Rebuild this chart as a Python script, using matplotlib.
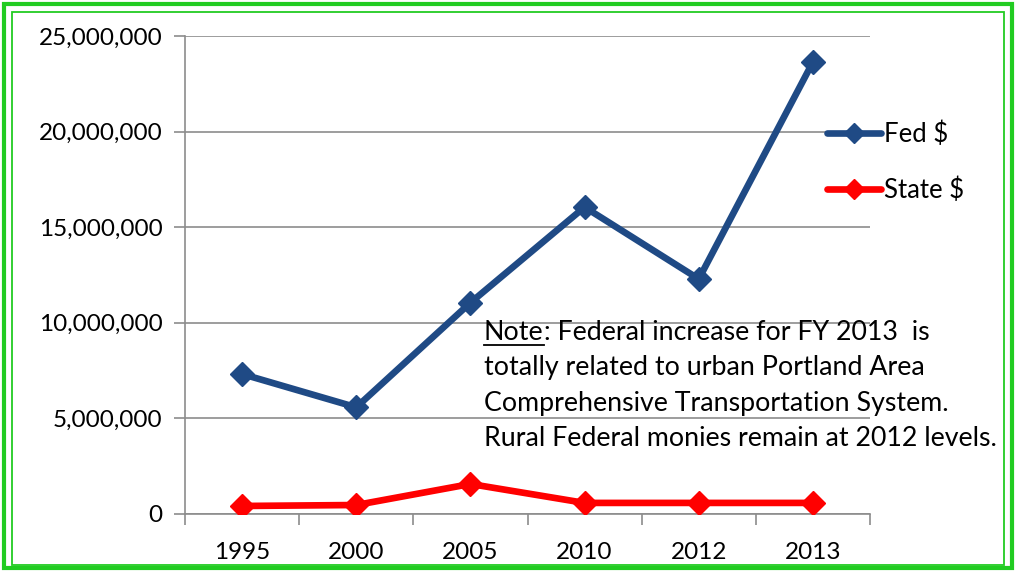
import matplotlib
matplotlib.use("Agg")
import matplotlib.pyplot as plt
from matplotlib.patches import Rectangle
from matplotlib.lines import Line2D
from matplotlib.ticker import FuncFormatter, MultipleLocator

years = ["1995", "2000", "2005", "2010", "2012", "2013"]
fed = [7320000, 5580000, 11050000, 16050000, 12290000, 23640000]
state = [420000, 470000, 1570000, 580000, 580000, 580000]
series_names = ["Fed $", "State $"]
note_lines = [
    ": Federal increase for FY 2013  is",
    "totally related to urban Portland Area",
    "Comprehensive Transportation System.",
    "Rural Federal monies remain at 2012 levels.",
]

plt.rcParams['font.family'] = ['Lato', 'DejaVu Sans']

W, H = 1016, 571
fig = plt.figure(figsize=(W / 100, H / 100), dpi=100)
ax = fig.add_axes([185 / W, 1 - 514 / H, (870 - 185) / W, (514 - 36) / H])

x = list(range(len(years)))
fed_c = "#1F4A85"
state_c = "#FF0000"
ax.plot(x, fed, color=fed_c, lw=4.8, marker="D", ms=12, solid_capstyle="round", zorder=3)
ax.plot(x, state, color=state_c, lw=4.8, marker="D", ms=12, solid_capstyle="round", zorder=3)

ax.set_xlim(-0.5, len(years) - 0.5)
ax.set_ylim(0, 25000000)
ax.yaxis.set_major_locator(MultipleLocator(5000000))
ax.yaxis.set_major_formatter(FuncFormatter(lambda v, p: f"{int(v):,}"))
ax.set_xticks(x)
ax.set_xticklabels(years)
ax.set_xticks([i - 0.5 for i in range(len(years) + 1)], minor=True)
ax.tick_params(axis="x", which="major", length=0, pad=20, labelsize=17.5)
ax.tick_params(axis="x", which="minor", length=8, width=1.2, color="#8C8C8C", direction="out")
ax.tick_params(axis="y", length=8, width=1.2, color="#8C8C8C", labelsize=17.5, pad=8)
ax.grid(axis="y", color="#8C8C8C", lw=1.2, zorder=0)
for s in ["top", "right"]:
    ax.spines[s].set_visible(False)
for s in ["left", "bottom"]:
    ax.spines[s].set_color("#8C8C8C")
    ax.spines[s].set_linewidth(1.2)

# Legend
handles = [Line2D([], [], color=fed_c, lw=4.8, marker="D", ms=10, solid_capstyle="round"),
           Line2D([], [], color=state_c, lw=4.8, marker="D", ms=10, solid_capstyle="round")]
fig.legend(handles, series_names, loc="upper left", bbox_to_anchor=(804 / W, 1 - 98 / H),
           frameon=False, fontsize=18.5, labelspacing=1.2, handlelength=2.1, handletextpad=0.1)

# Note text
fs = 19.3
t0 = fig.text(484 / W, 1 - 333 / H, "Note", fontsize=fs, va="center", ha="left")
fig.canvas.draw()
r = fig.canvas.get_renderer()
bb = t0.get_window_extent(r)
fig.text(bb.x1 / W, 1 - 333 / H, note_lines[0], fontsize=fs, va="center", ha="left")
fig.add_artist(Line2D([bb.x0 / W, bb.x1 / W], [(bb.y0 + 1) / H, (bb.y0 + 1) / H],
                      color="black", lw=1.3, transform=fig.transFigure))
for i, line in enumerate(note_lines[1:], start=1):
    fig.text(484 / W, 1 - (333 + 35 * i) / H, line, fontsize=fs, va="center", ha="left")

# Green double border
fig.add_artist(Rectangle((4 / W, 3 / H), (W - 8) / W, (H - 7) / H, fill=False,
                         edgecolor="#22CC22", lw=3, transform=fig.transFigure))
fig.add_artist(Rectangle((12 / W, 6 / H), (W - 24) / W, (H - 18) / H, fill=False,
                         edgecolor="#22CC22", lw=1.3, transform=fig.transFigure))

fig.savefig("out.png", dpi=100)
